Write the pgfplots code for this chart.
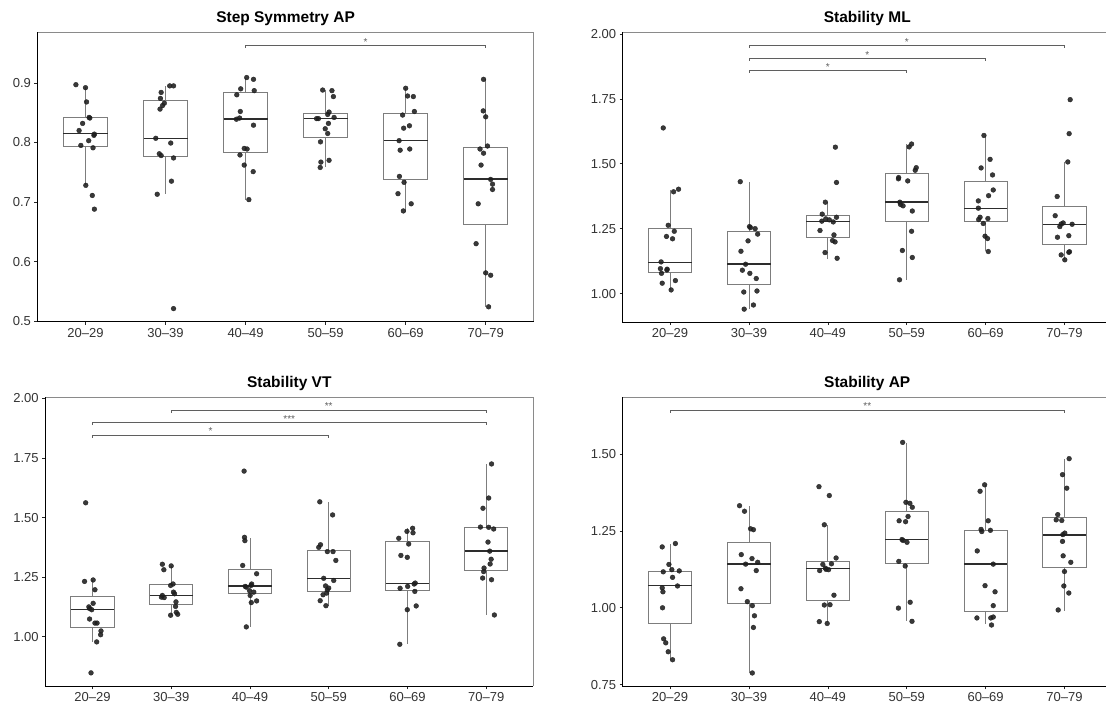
\documentclass[border=0pt]{standalone}
\usepackage{pgfplots}
\pgfplotsset{compat=1.18}
\usepgfplotslibrary{statistics}
\usepackage{fontspec}
\setmainfont{Liberation Sans}
\definecolor{boxcol}{RGB}{125,125,125}
\definecolor{medcol}{RGB}{45,45,45}
\definecolor{ptcol}{RGB}{30,30,30}
\definecolor{brkcol}{RGB}{95,95,95}
\newcommand{\bx}[6]{\addplot[boxcol, line width=0.8pt, solid, boxplot prepared={draw direction=y, draw position=#1, lower whisker=#2, lower quartile=#3, median=#4, upper quartile=#5, upper whisker=#6, box extend=0.55, whisker extend=0}] coordinates {};}
\pgfplotsset{
 boxplot/every median/.style={draw=medcol, line width=1.4pt},
 panel/.style={
  scale only axis, clip=false, anchor=south west,
  xmin=-0.6,
  axis line style={draw=none},
  tick align=outside, xtick pos=bottom, ytick pos=left,
  major tick length=3pt,
  every tick/.style={black!85, line width=0.6pt},
  xtick={0,1,2,3,4,5},
  xticklabels={20–29,30–39,40–49,50–59,60–69,70–79},
  tick label style={font=\fontsize{13}{13}\selectfont, text=black!80},
  /pgf/number format/assume math mode=true,
 },
 pts/.style={only marks, mark=*, mark size=2.4pt, ptcol, opacity=0.88},
 brkline/.style={brkcol, line width=0.6pt, mark=none},
}
\newcommand{\frm}{%
 \draw[boxcol!90, line width=0.7pt] (rel axis cs:0,1) -- (rel axis cs:1,1) -- (rel axis cs:1,0);
 \draw[black, line width=1.1pt] (rel axis cs:0,1) -- (rel axis cs:0,0) -- (rel axis cs:1,0);}
\newcommand{\frmr}{%
 \draw[boxcol!90, line width=0.7pt] (rel axis cs:0,1) -- (rel axis cs:1,1);
 \draw[black, line width=1.1pt] (rel axis cs:0,1) -- (rel axis cs:0,0) -- (rel axis cs:1,0);}
\newcommand{\ttl}[1]{\node[font=\bfseries\fontsize{15.5}{15.5}\selectfont, anchor=base, yshift=9.5pt] at ({axis cs:2.5,1} |- {rel axis cs:0,1}) {#1};}
\newcommand{\stars}[3]{\node[font=\fontsize{10}{10}\selectfont, text=brkcol, anchor=base, yshift=0.3pt] at (axis cs:#1,#2) {#3};}
\begin{document}
\begin{tikzpicture}
\path (0,0) rectangle (1107pt,704pt);
% ---------- Panel 1 ----------
\begin{axis}[panel, at={(37.5pt,382pt)}, width=496.5pt, height=289.7pt, xmax=5.6,
  ymin=0.4988, ymax=0.985, ytick={0.5,0.6,0.7,0.8,0.9},
  yticklabel style={/pgf/number format/.cd, fixed, fixed zerofill, precision=1}]
\bx{0}{0.728}{0.7931}{0.815}{0.8418}{0.893}
\bx{1}{0.713}{0.7758}{0.8066}{0.8698}{0.895}
\bx{2}{0.7036}{0.7836}{0.8396}{0.8838}{0.909}
\bx{3}{0.7596}{0.8088}{0.8401}{0.8485}{0.888}
\bx{4}{0.684}{0.7383}{0.8032}{0.8485}{0.892}
\bx{5}{0.524}{0.6628}{0.7383}{0.7909}{0.906}
\addplot[pts] coordinates {
(-0.12,0.897)(0,0.892)(0.013,0.868)(0.045,0.842)(0.054,0.841)(-0.036,0.832)(-0.080,0.820)(0.111,0.814)(0.105,0.812)(0.040,0.803)(-0.058,0.795)(0.094,0.791)(0.004,0.728)(0.085,0.711)(0.111,0.688)
(1.052,0.895)(1.10,0.895)(0.945,0.884)(0.936,0.874)(0.985,0.866)(0.963,0.862)(0.931,0.856)(0.878,0.807)(1.065,0.799)(0.922,0.781)(0.945,0.778)(1.10,0.774)(1.074,0.735)(0.896,0.713)(1.10,0.521)
(2.014,0.909)(2.099,0.906)(1.939,0.890)(2.108,0.887)(1.890,0.880)(1.934,0.852)(1.885,0.839)(1.925,0.841)(2.099,0.829)(1.983,0.790)(2.019,0.789)(1.930,0.779)(1.983,0.762)(2.095,0.751)(2.041,0.704)
(2.963,0.888)(3.079,0.887)(3.097,0.877)(3.043,0.851)(2.887,0.840)(2.910,0.840)(3.106,0.842)(3.026,0.847)(3.035,0.832)(2.995,0.823)(3.026,0.815)(2.936,0.801)(2.941,0.767)(3.043,0.770)(2.932,0.758)
(4.0,0.891)(4.024,0.878)(4.096,0.877)(4.109,0.852)(3.962,0.846)(4.047,0.828)(3.975,0.824)(3.918,0.803)(4.051,0.789)(3.931,0.787)(3.922,0.743)(3.980,0.733)(3.904,0.714)(4.069,0.697)(3.971,0.685)
(4.973,0.906)(4.969,0.853)(5.0,0.843)(5.022,0.794)(4.929,0.789)(4.973,0.782)(4.942,0.762)(5.062,0.738)(5.085,0.730)(5.085,0.721)(4.906,0.697)(4.88,0.630)(5.0,0.581)(5.062,0.577)(5.036,0.524)
};
\addplot[brkline] coordinates {(2,0.9587)(2,0.9627)(5,0.9627)(5,0.9587)};
\stars{3.5}{0.9627}{*}
\frm
\ttl{Step Symmetry AP}
\end{axis}
% ---------- Panel 2 ----------
\begin{axis}[panel, at={(623pt,381.7pt)}, width=484pt, height=290pt, xmax=5.532,
  ymin=0.890, ymax=2.0065, ytick={1,1.25,1.5,1.75,2},
  yticklabel style={/pgf/number format/.cd, fixed, fixed zerofill, precision=2}]
\bx{0}{1.0141}{1.0822}{1.1207}{1.2503}{1.4005}
\bx{1}{0.9397}{1.0347}{1.1143}{1.240}{1.4313}
\bx{2}{1.135}{1.2157}{1.2773}{1.3004}{1.352}
\bx{3}{1.0526}{1.2798}{1.353}{1.4621}{1.5764}
\bx{4}{1.163}{1.2773}{1.3286}{1.4313}{1.6085}
\bx{5}{1.1284}{1.1887}{1.2657}{1.3363}{1.5071}
\addplot[pts] coordinates {
(-0.086,1.638)(0.045,1.392)(0.108,1.402)(-0.023,1.263)(0.054,1.240)(-0.045,1.220)(0.032,1.211)(-0.113,1.122)(-0.122,1.096)(-0.036,1.094)(-0.040,1.091)(-0.108,1.078)(0.068,1.050)(-0.099,1.040)(0.014,1.014)
(0.890,1.431)(1.007,1.258)(1.020,1.254)(1.079,1.250)(1.111,1.229)(0.989,1.203)(0.899,1.163)(0.958,1.113)(0.917,1.090)(1.012,1.078)(1.093,1.058)(0.935,1.006)(1.102,1.010)(1.057,0.956)(0.940,0.940)
(2.096,1.564)(2.11,1.428)(1.969,1.352)(1.929,1.306)(1.974,1.288)(2.019,1.284)(1.924,1.279)(2.11,1.294)(2.069,1.276)(1.901,1.243)(2.078,1.226)(2.06,1.204)(2.092,1.199)(1.965,1.158)(2.118,1.136)
(3.062,1.576)(3.031,1.565)(3.121,1.485)(3.108,1.475)(2.898,1.447)(2.895,1.442)(3.013,1.434)(2.913,1.352)(2.922,1.343)(2.954,1.338)(3.071,1.318)(3.062,1.240)(2.945,1.166)(3.071,1.139)(2.909,1.053)
(3.979,1.609)(4.057,1.517)(3.943,1.484)(4.088,1.457)(4.097,1.399)(4.038,1.377)(3.908,1.357)(3.908,1.329)(3.930,1.294)(4.029,1.289)(3.912,1.285)(3.970,1.270)(3.993,1.221)(4.025,1.212)(4.034,1.162)
(5.072,1.747)(5.059,1.616)(5.042,1.507)(4.907,1.374)(4.882,1.300)(4.941,1.258)(4.958,1.268)(4.983,1.272)(5.097,1.267)(4.911,1.217)(5.055,1.223)(4.958,1.149)(5.055,1.159)(5.063,1.161)(5.004,1.130)
};
\addplot[brkline] coordinates {(1,1.946)(1,1.955)(5,1.955)(5,1.946)};
\addplot[brkline] coordinates {(1,1.897)(1,1.906)(4,1.906)(4,1.897)};
\addplot[brkline] coordinates {(1,1.850)(1,1.859)(3,1.859)(3,1.850)};
\stars{3}{1.955}{*}
\stars{2.5}{1.906}{*}
\stars{2}{1.859}{*}
\frmr
\ttl{Stability ML}
\end{axis}
% ---------- Panel 3 ----------
\begin{axis}[panel, at={(45.2pt,17.3pt)}, width=488.5pt, height=289pt, xmax=5.6,
  ymin=0.7914, ymax=2.004, ytick={1,1.25,1.5,1.75,2},
  yticklabel style={/pgf/number format/.cd, fixed, fixed zerofill, precision=2}]
\bx{0}{0.9776}{1.0406}{1.1147}{1.1692}{1.2378}
\bx{1}{1.0909}{1.1371}{1.1734}{1.2182}{1.2965}
\bx{2}{1.0406}{1.1804}{1.2126}{1.2811}{1.4154}
\bx{3}{1.1300}{1.1902}{1.2448}{1.3636}{1.5664}
\bx{4}{0.9678}{1.1958}{1.2238}{1.40}{1.4545}
\bx{5}{1.0909}{1.2783}{1.3594}{1.4587}{1.7245}
\addplot[pts] coordinates {
(-0.086,1.562)(0.009,1.238)(-0.1,1.232)(0.032,1.197)(0.009,1.140)(-0.045,1.125)(-0.036,1.118)(-0.009,1.113)(-0.036,1.074)(0.032,1.057)(0.059,1.057)(0.109,1.024)(0.104,1.008)(0.054,0.978)(-0.018,0.848)
(0.888,1.304)(1.0,1.297)(0.907,1.281)(1.024,1.221)(0.993,1.215)(1.029,1.187)(1.043,1.180)(0.888,1.173)(0.911,1.164)(0.876,1.166)(1.061,1.146)(1.056,1.127)(1.065,1.102)(1.083,1.094)(0.993,1.090)
(1.926,1.695)(1.931,1.417)(1.936,1.403)(1.908,1.299)(2.085,1.264)(1.94,1.211)(2.022,1.221)(2.013,1.215)(1.995,1.193)(2.049,1.187)(2.003,1.173)(2.085,1.150)(2.017,1.143)(1.954,1.041)(1.954,1.208)
(2.887,1.566)(3.05,1.511)(2.896,1.386)(2.874,1.375)(2.983,1.357)(3.055,1.357)(3.091,1.320)(2.937,1.245)(3.064,1.236)(2.96,1.213)(3.0,1.204)(2.983,1.196)(2.974,1.183)(2.929,1.176)(2.892,1.151)(2.965,1.130)
(4.066,1.455)(3.994,1.442)(4.071,1.436)(3.89,1.413)(4.016,1.389)(3.917,1.341)(3.998,1.333)(4.099,1.225)(4.085,1.221)(4.003,1.211)(3.907,1.203)(4.094,1.190)(4.111,1.129)(3.998,1.113)(3.903,0.968)
(5.068,1.725)(5.032,1.582)(4.959,1.539)(4.927,1.460)(5.032,1.459)(5.095,1.452)(5.023,1.397)(5.045,1.359)(5.063,1.325)(5.05,1.305)(4.973,1.288)(4.968,1.273)(4.955,1.246)(5.068,1.239)(5.104,1.091)
};
\addplot[brkline] coordinates {(1,1.941)(1,1.951)(5,1.951)(5,1.941)};
\addplot[brkline] coordinates {(0,1.888)(0,1.898)(5,1.898)(5,1.888)};
\addplot[brkline] coordinates {(0,1.836)(0,1.846)(3,1.846)(3,1.836)};
\stars{3}{1.951}{**}
\stars{2.5}{1.898}{***}
\stars{1.5}{1.846}{*}
\frm
\ttl{Stability VT}
\end{axis}
% ---------- Panel 4 ----------
\begin{axis}[panel, at={(623pt,17.3pt)}, width=484pt, height=289pt, xmax=5.532,
  ymin=0.7445, ymax=1.684, ytick={0.75,1,1.25,1.5},
  yticklabel style={/pgf/number format/.cd, fixed, fixed zerofill, precision=2}]
\bx{0}{0.8313}{0.9494}{1.0719}{1.1196}{1.2085}
\bx{1}{0.788}{1.0134}{1.1424}{1.2139}{1.3309}
\bx{2}{0.9527}{1.0253}{1.1283}{1.1521}{1.2692}
\bx{3}{0.956}{1.1434}{1.2226}{1.3125}{1.5368}
\bx{4}{0.9473}{0.9885}{1.1424}{1.2518}{1.4003}
\bx{5}{0.9906}{1.1326}{1.2366}{1.2940}{1.4827}
\addplot[pts] coordinates {
(0.068,1.209)(-0.099,1.198)(-0.014,1.141)(0.023,1.124)(0.117,1.120)(-0.086,1.117)(0.032,1.099)(0.095,1.071)(-0.099,1.065)(-0.09,1.052)(-0.095,1.000)(-0.081,0.899)(-0.054,0.886)(-0.023,0.857)(0.032,0.831)
(0.881,1.332)(0.944,1.314)(1.021,1.257)(1.057,1.254)(0.903,1.173)(1.039,1.160)(1.111,1.148)(0.958,1.142)(1.093,1.121)(0.899,1.062)(0.98,1.020)(1.043,1.007)(1.07,0.974)(1.057,0.936)(1.043,0.788)
(1.888,1.394)(2.019,1.365)(1.956,1.270)(2.105,1.162)(1.937,1.141)(2.046,1.143)(1.969,1.129)(2.01,1.124)(1.897,1.121)(2.078,1.041)(1.956,1.009)(2.028,1.010)(1.892,0.955)(1.992,0.949)(1.978,1.125)
(2.949,1.538)(2.99,1.343)(3.04,1.340)(3.071,1.327)(3.017,1.297)(2.904,1.283)(2.986,1.280)(2.94,1.222)(2.954,1.219)(3.004,1.213)(2.9,1.151)(2.981,1.136)(3.044,1.018)(2.895,0.999)(3.067,0.956)
(3.988,1.400)(3.93,1.379)(4.033,1.283)(3.943,1.255)(3.952,1.248)(4.061,1.252)(3.894,1.185)(4.097,1.142)(3.993,1.072)(4.12,1.052)(4.097,1.007)(3.89,0.967)(4.097,0.970)(4.066,0.967)(4.075,0.944)
(5.059,1.485)(4.975,1.433)(5.029,1.389)(4.915,1.303)(4.895,1.286)(4.966,1.284)(5.004,1.243)(4.979,1.238)(4.975,1.216)(4.983,1.169)(5.08,1.148)(5.0,1.118)(4.992,1.071)(5.055,1.048)(4.92,0.993)
};
\addplot[brkline] coordinates {(0,1.635)(0,1.643)(5,1.643)(5,1.635)};
\stars{2.5}{1.643}{**}
\frmr
\ttl{Stability AP}
\end{axis}
\end{tikzpicture}
\end{document}
